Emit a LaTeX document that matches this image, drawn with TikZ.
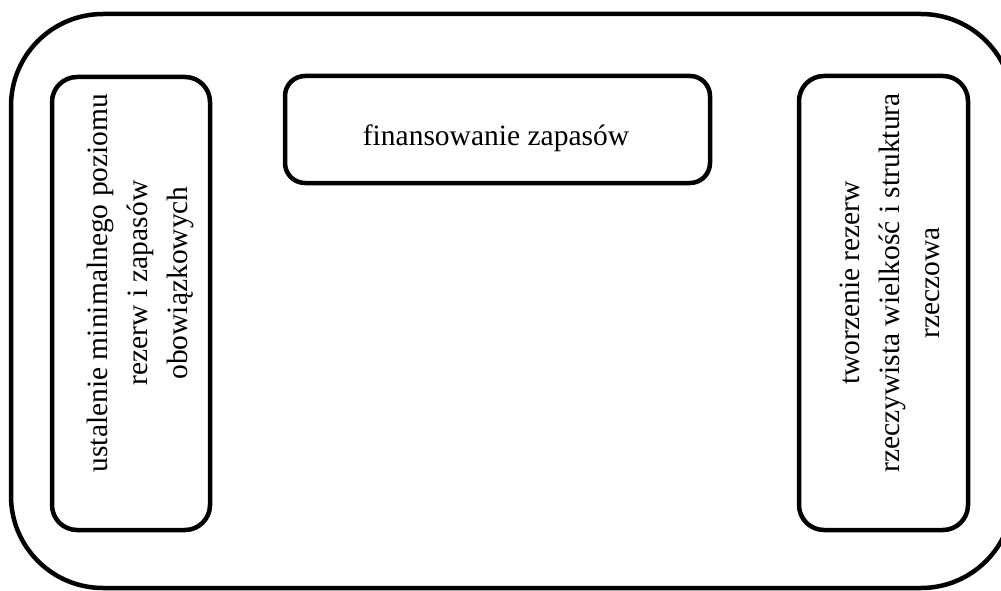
\documentclass[tikz,border=0pt]{standalone}
\usepackage{fontspec}
\setmainfont{Liberation Serif}
\tikzset{
  ramka/.style={draw=black, line width=4.5pt, rounded corners=#1, inner sep=0pt},
  napis/.style={font=\fontsize{29.5}{40}\selectfont, align=center, inner sep=0pt},
}
\begin{document}
\begin{tikzpicture}[x=1pt, y=-1pt]
  \useasboundingbox (0,0) rectangle (1001,591);
  \clip (0,0) rectangle (1001,591);
  % ramka zewnetrzna
  \draw[ramka=92pt] (11,14) rectangle (1013,588);

  % trzy pola
  \node[ramka=25pt, minimum width=158pt, minimum height=453pt](ustal) at (131,303.5){};
  \node[ramka=20pt, minimum width=425pt, minimum height=107pt](finans) at (497.5,129.5){};
  \node[ramka=25pt, minimum width=169pt, minimum height=454pt](tworz) at (883.5,303){};

  % napisy
  \node[napis, rotate=90](ustalTxt) at (140,283){ustalenie minimalnego poziomu\\rezerw i zapasów\\obowiązkowych};
  \node[napis, anchor=base](finansTxt) at (496,146){finansowanie zapasów};
  \node[napis, rotate=90](tworzTxt) at (890,283){tworzenie rezerw\\rzeczywista wielkość i struktura\\rzeczowa};
\end{tikzpicture}
\end{document}
